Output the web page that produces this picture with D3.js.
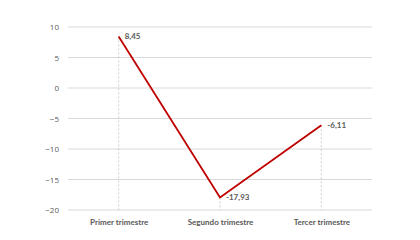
<!DOCTYPE html>
<html>
<head>
<meta charset="utf-8">
<script src="https://cdn.jsdelivr.net/npm/d3@7"></script>
<style>
  body { margin: 0; background: #fff; }
  text { font-family: Lato, "Open Sans", sans-serif; }
</style>
</head>
<body>
<script>
var categories = ['Primer trimestre', 'Segundo trimestre', 'Tercer trimestre'];
var values = [8.45, -17.93, -6.11];
var valueLabels = ['8,45', '-17,93', '-6,11'];
var yTicks = [10, 5, 0, -5, -10, -15, -20];

var margin = { top: 27, right: 48, bottom: 30, left: 68 };
var width = 420 - margin.left - margin.right;
var height = 240 - margin.top - margin.bottom;

var svg = d3.select('body').append('svg')
	.attr('width', 420)
	.attr('height', 240)
	.append('g')
		.attr('transform', 'translate(' + margin.left + ',' + margin.top + ')');

var x = d3.scalePoint()
	.domain(categories)
	.range([0, width])
	.padding(0.5);

var y = d3.scaleLinear()
	.domain([-20, 10])
	.range([183, 0]);

// gridlines
svg.append('g')
	.selectAll('line')
	.data(yTicks)
	.enter().append('line')
		.attr('x1', 0)
		.attr('x2', width)
		.attr('y1', function(d) { return y(d); })
		.attr('y2', function(d) { return y(d); })
		.attr('stroke', '#d9d9d9')
		.attr('stroke-width', 1);

// y axis labels
var yAxis = svg.append('g')
	.call(d3.axisLeft(y).tickValues(yTicks).tickSize(0).tickPadding(9));
yAxis.select('.domain').remove();
yAxis.selectAll('text')
	.attr('fill', '#595959')
	.style('font-family', '"Open Sans", sans-serif')
	.style('font-size', '8px');

// x axis labels
var xAxis = svg.append('g')
	.attr('transform', 'translate(0,' + y(-20) + ')')
	.call(d3.axisBottom(x).tickSize(0).tickPadding(9));
xAxis.select('.domain').remove();
xAxis.selectAll('text')
	.attr('fill', '#595959')
	.style('font-size', '8px')
	.style('font-weight', 'bold');

var data = categories.map(function(c, i) { return { cat: c, val: values[i], label: valueLabels[i] }; });

// drop lines
svg.append('g')
	.selectAll('line')
	.data(data)
	.enter().append('line')
		.attr('x1', function(d) { return x(d.cat); })
		.attr('x2', function(d) { return x(d.cat); })
		.attr('y1', function(d) { return y(d.val); })
		.attr('y2', y(-20))
		.attr('stroke', '#bfbfbf')
		.attr('stroke-width', 0.8)
		.attr('stroke-dasharray', '2,2');

var line = d3.line()
	.x(function(d) { return x(d.cat); })
	.y(function(d) { return y(d.val); });

svg.append('path')
	.datum(data)
	.attr('fill', 'none')
	.attr('stroke', '#c00000')
	.attr('stroke-width', 1.8)
	.attr('d', line);

svg.append('g')
	.selectAll('text')
	.data(data)
	.enter().append('text')
		.attr('x', function(d) { return x(d.cat) + 6; })
		.attr('y', function(d) { return y(d.val) + 3; })
		.attr('fill', '#595959')
		.style('font-size', '8px')
		.style('font-weight', 'bold')
		.text(function(d) { return d.label; });
</script>
</body>
</html>
